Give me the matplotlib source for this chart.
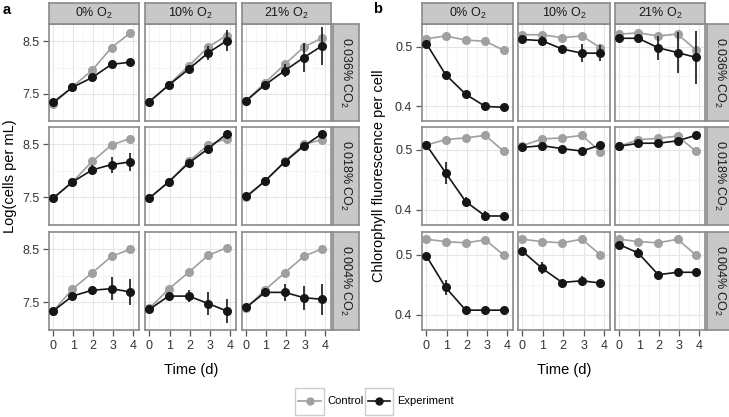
import numpy as np
import matplotlib
matplotlib.use('Agg')
import matplotlib.pyplot as plt
from matplotlib.patches import Rectangle
from matplotlib.lines import Line2D

plt.rcParams['font.family'] = ['Liberation Sans', 'DejaVu Sans']

# sampling times (days)
time_d = [0, 0.95, 1.95, 2.92, 3.83]

o2_labels = ['0% $\\mathregular{O_2}$', '10% $\\mathregular{O_2}$', '21% $\\mathregular{O_2}$']
co2_labels = ['0.036% $\\mathregular{CO_2}$', '0.018% $\\mathregular{CO_2}$', '0.004% $\\mathregular{CO_2}$']

# panel a : log(cells per mL), one list per O2 level (0, 10, 21 %)
a_ctrl_036 = [[7.31, 7.63, 7.95, 8.38, 8.65], [7.35, 7.67, 8.03, 8.39, 8.61], [7.37, 7.71, 8.06, 8.39, 8.56]]
a_exp_036 = [[7.34, 7.62, 7.81, 8.06, 8.10], [7.35, 7.66, 7.97, 8.28, 8.51], [7.37, 7.67, 7.94, 8.19, 8.41]]
a_err_036 = [[0.02, 0.02, 0.03, 0.03, 0.04], [0.02, 0.03, 0.04, 0.13, 0.20], [0.02, 0.05, 0.12, 0.28, 0.36]]

a_ctrl_018 = [[7.49, 7.79, 8.18, 8.49, 8.61], [7.49, 7.79, 8.18, 8.49, 8.61], [7.50, 7.81, 8.18, 8.50, 8.59]]
a_exp_018 = [[7.49, 7.79, 8.02, 8.12, 8.17], [7.49, 7.79, 8.15, 8.42, 8.70], [7.52, 7.81, 8.17, 8.47, 8.70]]
a_err_018 = [[0.02, 0.02, 0.10, 0.15, 0.17], [0.02, 0.02, 0.03, 0.03, 0.03], [0.02, 0.02, 0.03, 0.03, 0.04]]

a_ctrl_004 = [[7.34, 7.75, 8.06, 8.37, 8.50], [7.39, 7.75, 8.07, 8.39, 8.53], [7.39, 7.74, 8.06, 8.37, 8.51]]
a_exp_004 = [[7.34, 7.62, 7.73, 7.76, 7.70], [7.37, 7.62, 7.62, 7.48, 7.34], [7.41, 7.69, 7.69, 7.59, 7.56]]
a_err_004 = [[0.02, 0.03, 0.04, 0.22, 0.25], [0.02, 0.03, 0.12, 0.21, 0.23], [0.02, 0.03, 0.16, 0.23, 0.29]]

# panel b : chlorophyll fluorescence per cell
b_ctrl_036 = [[0.513, 0.518, 0.511, 0.509, 0.494], [0.520, 0.520, 0.515, 0.518, 0.498], [0.521, 0.523, 0.518, 0.521, 0.495]]
b_exp_036 = [[0.505, 0.453, 0.420, 0.3995, 0.398], [0.512, 0.510, 0.496, 0.489, 0.489], [0.514, 0.514, 0.498, 0.490, 0.482]]
b_err_036 = [[0.003, 0.003, 0.003, 0.003, 0.003], [0.007, 0.007, 0.004, 0.015, 0.014], [0.004, 0.004, 0.020, 0.035, 0.045]]

b_ctrl_018 = [[0.508, 0.517, 0.520, 0.524, 0.498], [0.507, 0.518, 0.520, 0.524, 0.497], [0.506, 0.517, 0.519, 0.523, 0.498]]
b_exp_018 = [[0.508, 0.462, 0.414, 0.390, 0.390], [0.504, 0.507, 0.502, 0.498, 0.508], [0.506, 0.511, 0.511, 0.515, 0.524]]
b_err_018 = [[0.003, 0.018, 0.007, 0.008, 0.003], [0.003, 0.004, 0.003, 0.003, 0.004], [0.003, 0.003, 0.003, 0.004, 0.006]]

b_ctrl_004 = [[0.526, 0.522, 0.520, 0.525, 0.500], [0.526, 0.522, 0.520, 0.526, 0.500], [0.526, 0.522, 0.520, 0.526, 0.500]]
b_exp_004 = [[0.498, 0.446, 0.408, 0.408, 0.408], [0.506, 0.478, 0.454, 0.457, 0.453], [0.517, 0.503, 0.467, 0.471, 0.471]]
b_err_004 = [[0.003, 0.012, 0.003, 0.003, 0.004], [0.003, 0.010, 0.003, 0.008, 0.004], [0.003, 0.008, 0.003, 0.003, 0.003]]

a_ctrl = [a_ctrl_036, a_ctrl_018, a_ctrl_004]
a_exp = [a_exp_036, a_exp_018, a_exp_004]
a_err = [a_err_036, a_err_018, a_err_004]
b_ctrl = [b_ctrl_036, b_ctrl_018, b_ctrl_004]
b_exp = [b_exp_036, b_exp_018, b_exp_004]
b_err = [b_err_036, b_err_018, b_err_004]

W, H = 729, 417
fig = plt.figure(figsize=(W / 100, H / 100), dpi=100)

def box(x0, y0, x1, y1):
    # pixel box (top-left origin) -> figure fraction
    return [x0 / W, 1 - y1 / H, (x1 - x0) / W, (y1 - y0) / H]

rows_y = [(24, 121), (127, 225), (232, 330)]
cols_a = [(49, 139), (145, 236), (242, 331)]
cols_b = [(422, 513), (518, 610), (615, 705)]

frame_col = '#8a8a8a'
strip_col = '#c8c8c8'
ctrl_col = '#a0a0a0'
exp_col = '#161616'


def strip(rect, label, rot):
    s = fig.add_axes(rect)
    s.set_facecolor(strip_col)
    s.set_xticks([])
    s.set_yticks([])
    for sp in s.spines.values():
        sp.set_color(frame_col)
        sp.set_linewidth(1.2)
    s.text(0.5, 0.5, label, transform=s.transAxes, ha='center', va='center',
           rotation=rot, fontsize=9, color='#1a1a1a')


def panel(cols, ctrl, exp, err, ylim, yt, ymin, strip_x):
    for i, (y0, y1) in enumerate(rows_y):
        for j, (x0, x1) in enumerate(cols):
            ax = fig.add_axes(box(x0, y0, x1, y1))
            ax.plot(time_d, ctrl[i][j], '-o', color=ctrl_col, ms=5.5, lw=1.2, zorder=3)
            ax.errorbar(time_d, exp[i][j], yerr=err[i][j], fmt='-o', color=exp_col,
                        ms=5.5, lw=1.2, elinewidth=1.2, capsize=0, zorder=4)
            ax.set_xlim(-0.22, 4.3)
            ax.set_ylim(*ylim)
            ax.set_xticks(range(5))
            ax.set_xticks([0.5, 1.5, 2.5, 3.5], minor=True)
            ax.set_yticks(yt)
            ax.set_yticks(ymin, minor=True)
            ax.grid(which='major', color='#e6e6e6', lw=0.8)
            ax.grid(which='minor', color='#f2f2f2', lw=0.5)
            ax.set_axisbelow(True)
            for sp in ax.spines.values():
                sp.set_color(frame_col)
                sp.set_linewidth(1.2)
            ax.tick_params(which='minor', length=0)
            ax.tick_params(which='major', length=4, width=0.9, color='#555555',
                           labelsize=9, labelcolor='#333333', pad=3)
            if j > 0:
                ax.tick_params(axis='y', which='major', length=0, labelleft=False)
            if i < 2:
                ax.tick_params(axis='x', which='major', length=0, labelbottom=False)
            if i == 0:
                strip(box(x0, 3, x1, 24), o2_labels[j], 0)
        strip(box(strip_x, y0, strip_x + 26, y1), co2_labels[i], 270)


panel(cols_a, a_ctrl, a_exp, a_err, (6.98, 8.83), [7.5, 8.5], [8.0], 333)
panel(cols_b, b_ctrl, b_exp, b_err, (0.375, 0.538), [0.4, 0.5], [0.45], 707)

fig.text(3 / W, 1 - 10 / H, 'a', fontsize=10.5, fontweight='bold', va='center')
fig.text(373 / W, 1 - 9 / H, 'b', fontsize=10.5, fontweight='bold', va='center')
fig.text(10 / W, 1 - 176 / H, 'Log(cells per mL)', rotation=90, ha='center', va='center', fontsize=10.5)
fig.text(379 / W, 1 - 176 / H, 'Chlorophyll fluorescence per cell', rotation=90, ha='center',
         va='center', fontsize=10.5)
fig.text(191 / W, 1 - 370 / H, 'Time (d)', ha='center', va='center', fontsize=10.5)
fig.text(564 / W, 1 - 370 / H, 'Time (d)', ha='center', va='center', fontsize=10.5)

# legend drawn by hand, ggplot style key boxes
for (kx0, kx1, tx, lab, col) in [(295, 324, 327, 'Control', ctrl_col),
                                 (365, 393, 397, 'Experiment', exp_col)]:
    fig.add_artist(Rectangle((kx0 / W, 1 - 415 / H), (kx1 - kx0) / W, 27 / H,
                             transform=fig.transFigure, facecolor='white',
                             edgecolor='#cccccc', lw=1))
    yl = 1 - 401 / H
    fig.add_artist(Line2D([(kx0 + 3) / W, (kx1 - 3) / W], [yl, yl], color=col, lw=1.2,
                          transform=fig.transFigure))
    fig.add_artist(Line2D([(kx0 + kx1) / 2 / W], [yl], marker='o', ms=5, color=col,
                          transform=fig.transFigure))
    fig.text(tx / W, yl, lab, ha='left', va='center', fontsize=8)

fig.savefig('out.png', dpi=100)
